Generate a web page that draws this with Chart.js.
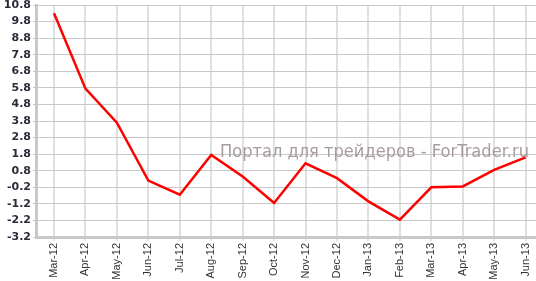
<!DOCTYPE html>
<html>
<head>
<meta charset="utf-8">
<script src="https://cdn.jsdelivr.net/npm/chart.js@4"></script>
<style>
  html, body { margin: 0; padding: 0; background: #fff; }
  #wrap { width: 536px; height: 281px; position: relative; }
</style>
</head>
<body>
<div id="wrap"><canvas id="lineChart"></canvas></div>
<script>
// Monthly series, Mar-12 .. Jun-13
const months = ['Mar-12', 'Apr-12', 'May-12', 'Jun-12', 'Jul-12', 'Aug-12', 'Sep-12', 'Oct-12',
                'Nov-12', 'Dec-12', 'Jan-13', 'Feb-13', 'Mar-13', 'Apr-13', 'May-13', 'Jun-13'];
const values = [10.3, 5.75, 3.7, 0.2, -0.65, 1.75, 0.45, -1.15,
                1.25, 0.35, -1.05, -2.15, -0.2, -0.15, 0.85, 1.6];
const yMin = -3.2;
const yMax = 10.8;
const yStep = 1;
const watermark = 'Портал для трейдеров - ForTrader.ru';

// watermark text drawn behind the line
const watermarkPlugin = {
    id: 'watermark',
    beforeDatasetsDraw(chart) {
        const ctx = chart.ctx;
        ctx.save();
        ctx.font = '18px "DejaVu Sans"';
        ctx.fillStyle = '#a89c9c';
        ctx.textAlign = 'left';
        ctx.textBaseline = 'alphabetic';
        ctx.fillText(watermark, 220, 157, 309);
        ctx.restore();
    }
};

const points = values.map((v, i) => ({ x: i, y: v }));

new Chart(document.getElementById('lineChart'), {
    type: 'line',
    data: {
        datasets: [{
            data: points,
            borderColor: '#ff0000',
            borderWidth: 2.5,
            pointRadius: 0,
            tension: 0,
            fill: false
        }]
    },
    options: {
        responsive: true,
        maintainAspectRatio: false,
        animation: false,
        layout: { padding: { top: 5, right: 0, left: 0, bottom: 0 } },
        plugins: {
            legend: { display: false },
            tooltip: { enabled: false }
        },
        scales: {
            x: {
                type: 'linear',
                min: -0.573,
                max: 15.33,
                grid: {
                    color: '#e0e0e0',
                    lineWidth: 2,
                    tickLength: 4,
                    tickColor: '#c8c8c8',
                    tickWidth: 1
                },
                border: { color: '#c8c8c8', width: 3 },
                ticks: {
                    stepSize: 1,
                    includeBounds: false,
                    autoSkip: false,
                    minRotation: 90,
                    maxRotation: 90,
                    padding: 2,
                    color: '#333',
                    font: { family: '"Liberation Sans", Arial', size: 11 },
                    callback: v => months[v] || ''
                },
                afterFit: s => { s.height = 44; s.paddingLeft = 0; s.paddingRight = 0; }
            },
            y: {
                min: yMin,
                max: yMax,
                grid: {
                    color: '#c8c8c8',
                    lineWidth: 1,
                    tickLength: 3,
                    tickColor: '#c8c8c8'
                },
                border: { color: '#c8c8c8', width: 3 },
                ticks: {
                    stepSize: yStep,
                    padding: 2,
                    color: '#2a2a3a',
                    font: { family: '"DejaVu Sans", Verdana', size: 11, weight: 'bold' },
                    callback: v => Number(v).toFixed(1)
                },
                afterFit: s => { s.width = 36; s.paddingTop = 0; s.paddingBottom = 0; }
            }
        }
    },
    plugins: [watermarkPlugin]
});
</script>
</body>
</html>
